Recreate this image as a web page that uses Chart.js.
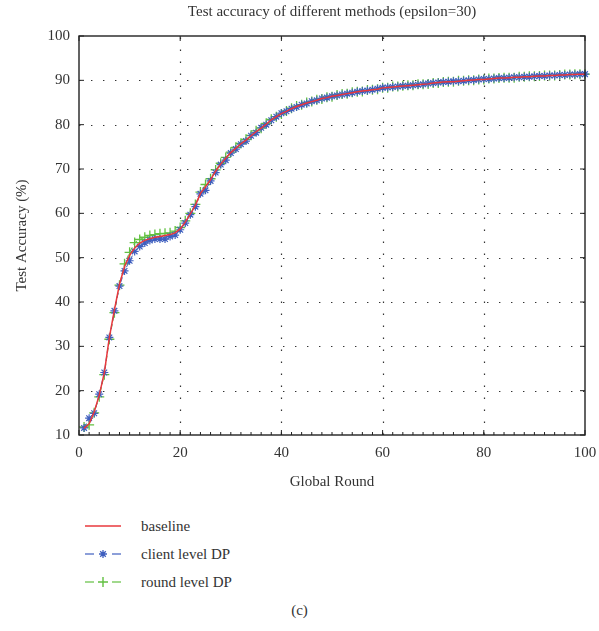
<!DOCTYPE html>
<html>
<head>
<meta charset="utf-8">
<script src="https://cdn.jsdelivr.net/npm/chart.js@4"></script>
<style>
  body { margin: 0; background: #fff; font-family: "Liberation Serif", "DejaVu Serif", serif; color: #333; }
  #wrap { position: relative; width: 599px; height: 631px; }
  #legend { position: absolute; left: 85px; top: 512px; }
  .row { height: 28px; display: flex; align-items: center; font-size: 15px; }
  .row svg { width: 36px; height: 12px; margin-right: 20px; }
  #cap { position: absolute; left: 0; width: 599px; top: 602px; text-align: center; font-size: 15px; }
</style>
</head>
<body>
<div id="wrap">
  <canvas id="grafico" width="599" height="500"></canvas>
  <div id="legend"></div>
  <div id="cap">(c)</div>
</div>
<script>
// === dados ===
const rounds = [];
for (let i = 1; i <= 100; i++) rounds.push(i);

const baseline = [
  11.5, 12.5, 15.2, 19.0, 24.0, 32.0, 38.2, 44.0, 48.0, 50.5,
  52.2, 53.3, 53.9, 54.3, 54.6, 54.8, 55.0, 55.2, 55.6, 56.5,
  58.0, 59.9, 61.8, 64.5, 66.0, 67.6, 69.5, 71.1, 72.4, 73.7,
  74.7, 75.7, 76.5, 77.5, 78.4, 79.2, 80.1, 81.1, 81.8, 82.5,
  83.0, 83.6, 84.1, 84.5, 84.9, 85.2, 85.5, 85.9, 86.1, 86.4,
  86.6, 86.8, 87.0, 87.2, 87.4, 87.6, 87.7, 87.9, 88.0, 88.3,
  88.4, 88.5, 88.6, 88.7, 88.8, 88.9, 89.0, 89.1, 89.2, 89.4,
  89.5, 89.6, 89.7, 89.7, 89.8, 89.9, 90.0, 90.1, 90.2, 90.2,
  90.3, 90.4, 90.5, 90.5, 90.6, 90.7, 90.7, 90.8, 90.8, 90.9,
  91.0, 91.0, 91.1, 91.1, 91.2, 91.2, 91.3, 91.3, 91.4, 91.4
];

const clientDP = [
  11.6, 13.8, 14.9, 19.2, 24.1, 32.0, 38.0, 43.6, 47.0, 49.3,
  51.4, 52.5, 53.3, 53.9, 54.2, 54.2, 54.2, 54.8, 55.1, 56.3,
  57.8, 59.7, 61.5, 64.4, 65.2, 67.3, 69.2, 71.0, 72.0, 73.6,
  74.5, 75.6, 76.3, 77.5, 78.2, 79.3, 80.0, 81.0, 81.8, 82.6,
  83.0, 83.6, 84.0, 84.5, 84.8, 85.3, 85.5, 85.9, 86.1, 86.4,
  86.6, 86.8, 87.0, 87.2, 87.4, 87.6, 87.7, 87.9, 88.1, 88.3,
  88.4, 88.5, 88.6, 88.7, 88.8, 88.9, 89.0, 89.1, 89.3, 89.4,
  89.5, 89.6, 89.7, 89.8, 89.8, 89.9, 90.0, 90.1, 90.2, 90.3,
  90.3, 90.4, 90.5, 90.5, 90.6, 90.7, 90.7, 90.8, 90.8, 90.9,
  91.0, 91.0, 91.1, 91.1, 91.2, 91.2, 91.3, 91.3, 91.4, 91.4
];

const roundDP = [
  11.8, 12.3, 15.0, 18.6, 23.6, 31.6, 37.6, 43.8, 48.6, 51.2,
  53.4, 54.1, 54.6, 55.0, 55.2, 55.4, 55.5, 55.6, 56.0, 56.8,
  58.3, 60.0, 62.0, 64.8, 66.5, 67.8, 69.8, 71.3, 72.6, 73.8,
  74.9, 75.8, 76.7, 77.6, 78.6, 79.2, 80.3, 81.2, 81.8, 82.4,
  83.1, 83.7, 84.2, 84.5, 85.0, 85.2, 85.6, 85.8, 86.2, 86.3,
  86.7, 86.9, 87.0, 87.3, 87.4, 87.5, 87.8, 87.9, 88.0, 88.3,
  88.3, 88.6, 88.6, 88.8, 88.9, 88.9, 89.1, 89.1, 89.2, 89.4,
  89.4, 89.6, 89.7, 89.7, 89.9, 89.9, 90.0, 90.0, 90.2, 90.2,
  90.4, 90.4, 90.5, 90.6, 90.6, 90.6, 90.8, 90.8, 90.9, 90.9,
  91.0, 91.1, 91.1, 91.1, 91.2, 91.3, 91.3, 91.4, 91.4, 91.4
];

const xTicks = [0, 20, 40, 60, 80, 100];
const yTicks = [10, 20, 30, 40, 50, 60, 70, 80, 90, 100];

const RED = '#e8383d', BLUE = '#3f5fbf', GREEN = '#62c041';
const FONT = { family: '"Liberation Serif", "DejaVu Serif", serif', size: 15 };

const pontos = arr => arr.map((v, i) => ({ x: rounds[i], y: v }));

// moldura, grade pontilhada e ticks internos (estilo matlab)
const moldura = {
  id: 'moldura',
  beforeDatasetsDraw(chart) {
    const { ctx, chartArea: a, scales: { x, y } } = chart;
    ctx.save();
    ctx.strokeStyle = '#333';
    ctx.lineWidth = 1.2;
    ctx.setLineDash([1.4, 10.6]);
    for (const v of xTicks.slice(1, -1)) {
      const px = Math.round(x.getPixelForValue(v)) + 0.5;
      ctx.beginPath(); ctx.moveTo(px, a.bottom); ctx.lineTo(px, a.top); ctx.stroke();
    }
    for (const v of yTicks.slice(1, -1)) {
      const py = Math.round(y.getPixelForValue(v)) + 0.5;
      ctx.beginPath(); ctx.moveTo(a.left, py); ctx.lineTo(a.right, py); ctx.stroke();
    }
    ctx.restore();
  },
  afterDraw(chart) {
    const { ctx, chartArea: a, scales: { x, y } } = chart;
    ctx.save();
    ctx.strokeStyle = '#222';
    ctx.lineWidth = 1.4;
    ctx.strokeRect(a.left, a.top, a.right - a.left, a.bottom - a.top);
    ctx.lineWidth = 1;
    ctx.beginPath();
    for (const v of xTicks) {
      const px = x.getPixelForValue(v);
      ctx.moveTo(px, a.bottom); ctx.lineTo(px, a.bottom - 5);
      ctx.moveTo(px, a.top); ctx.lineTo(px, a.top + 5);
    }
    for (let v = 2; v < 100; v += 2) {
      const px = x.getPixelForValue(v);
      ctx.moveTo(px, a.bottom); ctx.lineTo(px, a.bottom - 3);
    }
    for (const v of yTicks) {
      const py = y.getPixelForValue(v);
      ctx.moveTo(a.left, py); ctx.lineTo(a.left + 5, py);
      ctx.moveTo(a.right, py); ctx.lineTo(a.right - 5, py);
    }
    ctx.stroke();
    ctx.restore();
  }
};

const chart = new Chart(document.getElementById('grafico').getContext('2d'), {
  type: 'line',
  data: {
    datasets: [
      { label: 'baseline', data: pontos(baseline), borderColor: RED, borderWidth: 1.5,
        pointRadius: 0, tension: 0, clip: 6 },
      { label: 'client level DP', data: pontos(clientDP), borderColor: BLUE, borderWidth: 1,
        borderDash: [5, 3], pointStyle: 'star', pointRadius: 4, pointBorderColor: BLUE,
        pointBorderWidth: 1.2, tension: 0, clip: 6 },
      { label: 'round level DP', data: pontos(roundDP), borderColor: GREEN, borderWidth: 1,
        borderDash: [5, 3], pointStyle: 'cross', pointRadius: 5, pointBorderColor: GREEN,
        pointBorderWidth: 1.3, tension: 0, clip: 6 }
    ]
  },
  options: {
    responsive: false,
    animation: false,
    layout: { padding: { left: 0, right: 14, top: 0, bottom: 0 } },
    plugins: {
      legend: { display: false },
      tooltip: { enabled: false },
      title: {
        display: true, fullSize: false,
        text: 'Test accuracy of different methods (epsilon=30)',
        color: '#333', font: { ...FONT, weight: 'normal' },
        padding: { top: 3, bottom: 15 }
      }
    },
    scales: {
      x: {
        type: 'linear', min: 0, max: 100,
        afterFit: s => { s.height = 65; s.paddingRight = 0; s.paddingLeft = 0; },
        afterBuildTicks: s => { s.ticks = xTicks.map(v => ({ value: v })); },
        grid: { display: false, drawTicks: false },
        border: { display: false },
        ticks: { color: '#333', font: FONT, padding: 9, maxRotation: 0 },
        title: { display: true, text: 'Global Round', color: '#333', font: FONT,
                 padding: { top: 0, bottom: 9 } }
      },
      y: {
        min: 10, max: 100,
        afterFit: s => { s.width = 79; s.paddingTop = 0; s.paddingBottom = 0; },
        afterBuildTicks: s => { s.ticks = yTicks.map(v => ({ value: v })); },
        grid: { display: false, drawTicks: false },
        border: { display: false },
        ticks: { color: '#333', font: FONT, padding: 9 },
        title: { display: true, text: 'Test Accuracy (%)', color: '#333', font: FONT,
                 padding: { top: 13, bottom: 0 } }
      }
    }
  },
  plugins: [moldura]
});

// legenda em html, montada a partir dos datasets
const amostras = [
  '<line x1="0" y1="6" x2="36" y2="6" stroke="' + RED + '" stroke-width="1.5"/>',
  '<line x1="0" y1="6" x2="9" y2="6" stroke="' + BLUE + '" stroke-width="1.2"/><line x1="27" y1="6" x2="36" y2="6" stroke="' + BLUE + '" stroke-width="1.2"/>' +
    '<path d="M18 2V10M14 6H22M15.2 3.2L20.8 8.8M20.8 3.2L15.2 8.8" stroke="' + BLUE + '" stroke-width="1.3"/>',
  '<line x1="0" y1="6" x2="9" y2="6" stroke="' + GREEN + '" stroke-width="1.2"/><line x1="27" y1="6" x2="36" y2="6" stroke="' + GREEN + '" stroke-width="1.2"/>' +
    '<path d="M18 1V11M13 6H23" stroke="' + GREEN + '" stroke-width="1.4"/>'
];
const legend = document.getElementById('legend');
chart.data.datasets.forEach((ds, i) => {
  const row = document.createElement('div');
  row.className = 'row';
  row.innerHTML = '<svg viewBox="0 0 36 12">' + amostras[i] + '</svg><span>' + ds.label + '</span>';
  legend.appendChild(row);
});
</script>
</body>
</html>
